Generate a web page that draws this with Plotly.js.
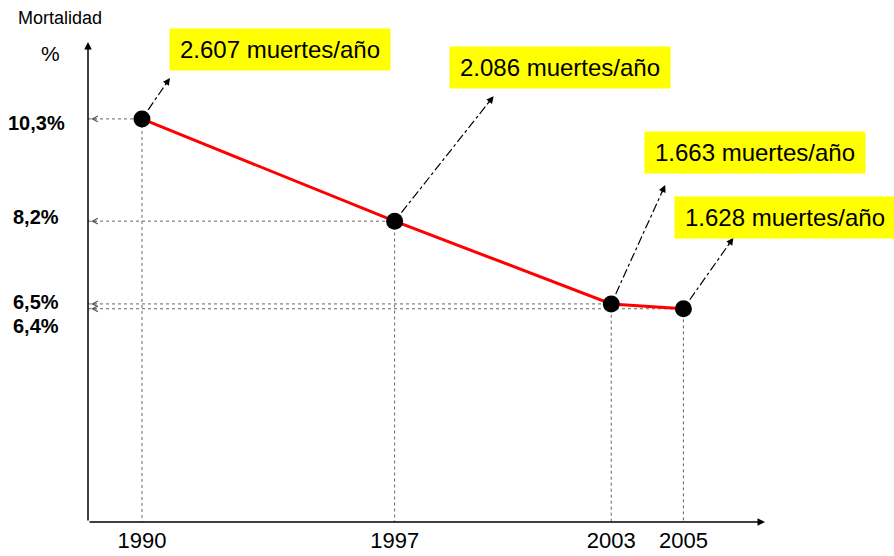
<!DOCTYPE html>
<html>
<head>
<meta charset="utf-8">
<script src="https://cdn.plot.ly/plotly-3.0.1.min.js"></script>
<style>html,body{margin:0;padding:0;background:#fff;overflow:hidden}#chart{width:894px;height:556px}</style>
</head>
<body>
<div id="chart"></div>
<script>
// ---- data ----
const years = [1990, 1997, 2003, 2005];
const mortality = [10.3, 8.2, 6.5, 6.4];
const deathsText = ['2.607 muertes/año', '2.086 muertes/año', '1.663 muertes/año', '1.628 muertes/año'];
const yTickText = ['10,3%', '8,2%', '6,5%', '6,4%'];
const xTickText = ['1990', '1997', '2003', '2005'];

// ---- layout / style constants ----
const FONT = 'Liberation Sans, Arial, sans-serif';
const X_RANGE = [1988.505, 2007.26];
const Y_RANGE = [2.02, 11.88];
const labelShift = [-4, 4, 2, -17];            // px, y tick label nudges
const boxOffset = [[138, 69], [165, 154], [144, 151], [102, 91]]; // px from point (right, up)
const tipOffset = [[28, 41], [99, 125], [54, 119], [50, 71]];     // px from point (right, up)

// guide lines (dotted) from y axis to point, and point down to x axis
const gx = [], gy = [];
years.forEach((yr, i) => {
  gx.push(X_RANGE[0], yr, yr, null);
  gy.push(mortality[i], mortality[i], Y_RANGE[0], null);
});

const traces = [
  {x: gx, y: gy, mode: 'lines', line: {color: '#666', width: 1, dash: 'dot'}, hoverinfo: 'skip', showlegend: false},
  {x: years, y: mortality, mode: 'lines+markers', line: {color: '#ff0000', width: 3},
   marker: {color: '#000', size: 17}, showlegend: false}
];

const shapes = [];
const annotations = [];

years.forEach((yr, i) => {
  const [tx, ty] = tipOffset[i];
  const L = Math.hypot(tx, ty), ux = tx / L, uy = ty / L;
  shapes.push({type: 'line', xref: 'x', yref: 'y', xsizemode: 'pixel', ysizemode: 'pixel',
    xanchor: yr, yanchor: mortality[i], x0: ux * 11, y0: uy * 11, x1: tx - ux * 4, y1: ty - uy * 4,
    line: {color: '#000', width: 1.2, dash: 'dashdot'}});
  annotations.push({x: yr, y: mortality[i], xref: 'x', yref: 'y', xshift: tx, yshift: ty, text: '',
    showarrow: true, arrowhead: 2, arrowsize: 1.1, arrowwidth: 1.3, arrowcolor: '#000',
    ax: -ux * 10, ay: uy * 10});
  annotations.push({x: yr, y: mortality[i], xref: 'x', yref: 'y', xshift: boxOffset[i][0], yshift: boxOffset[i][1],
    text: deathsText[i], showarrow: false, bgcolor: '#ffff00', borderpad: 7, width: 206,
    xanchor: 'center', yanchor: 'middle', font: {family: FONT, size: 24, color: '#000'}});
  // y tick label
  annotations.push({x: 0, xref: 'paper', y: mortality[i], yref: 'y', xshift: -52, yshift: labelShift[i],
    text: yTickText[i], showarrow: false, xanchor: 'center', yanchor: 'middle',
    font: {family: FONT, size: 20, color: '#000', weight: 'bold'}});
  // open arrowhead at y axis
  annotations.push({x: 0, xref: 'paper', y: mortality[i], yref: 'y', xshift: 3, text: '',
    showarrow: true, arrowhead: 5, arrowsize: 1.4, arrowwidth: 0.8, arrowcolor: '#555', ax: 7, ay: 0});
});

// axes with arrows
annotations.push({x: 0, y: 1, xref: 'paper', yref: 'paper', text: '', showarrow: true, arrowhead: 2,
  arrowsize: 1, arrowwidth: 1.5, arrowcolor: '#000', ax: 0, ay: 480});
annotations.push({x: 1, y: 0, xref: 'paper', yref: 'paper', text: '', showarrow: true, arrowhead: 2,
  arrowsize: 1, arrowwidth: 1.5, arrowcolor: '#000', ax: -677, ay: 0});

annotations.push({x: 0, y: 1, xref: 'paper', yref: 'paper', xshift: -28, yshift: 24, text: 'Mortalidad',
  showarrow: false, xanchor: 'center', yanchor: 'middle', font: {family: FONT, size: 18, color: '#000'}});
annotations.push({x: 0, y: 1, xref: 'paper', yref: 'paper', xshift: -38, yshift: -11, text: '%',
  showarrow: false, xanchor: 'center', yanchor: 'middle', font: {family: FONT, size: 21, color: '#000'}});

const layout = {
  width: 894, height: 556,
  margin: {l: 88, r: 129, t: 42, b: 34, pad: 0},
  paper_bgcolor: '#fff', plot_bgcolor: '#fff',
  showlegend: false,
  xaxis: {range: X_RANGE, tickvals: years, ticktext: xTickText, showgrid: false, zeroline: false,
    showline: false, ticks: '', ticklabelstandoff: 3, tickfont: {family: FONT, size: 22, color: '#000'}, fixedrange: true},
  yaxis: {range: Y_RANGE, showgrid: false, zeroline: false, showline: false, showticklabels: false,
    ticks: '', fixedrange: true},
  shapes: shapes,
  annotations: annotations
};

Plotly.newPlot('chart', traces, layout, {staticPlot: true});
</script>
</body>
</html>
